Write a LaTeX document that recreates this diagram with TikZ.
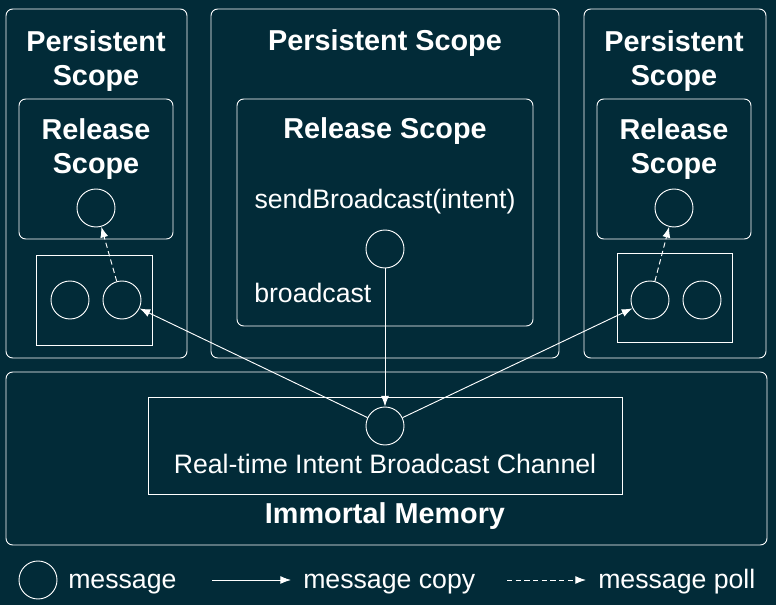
\documentclass[tikz,border=0pt]{standalone}
\usepackage{fontspec}
\setmainfont{Liberation Sans}
\usetikzlibrary{arrows.meta}
\definecolor{bgteal}{HTML}{022B38}
\tikzset{
  scopebox/.style={draw=white, line width=0.7pt, rounded corners=5pt},
  queuebox/.style={draw=white, line width=0.7pt},
  msg/.style={circle, draw=white, line width=0.7pt, minimum size=28.5pt, inner sep=0pt},
  scopetitle/.style={text=white, align=center, font=\fontsize{21.6}{25.5}\selectfont\bfseries},
  txt/.style={text=white, font=\fontsize{20}{24}\selectfont},
  copyarrow/.style={draw=white, line width=0.7pt, -{Latex[length=8pt,width=6pt]}},
  pollarrow/.style={copyarrow, dash pattern=on 4pt off 2.5pt},
}
\begin{document}
\begin{tikzpicture}[x=0.75pt, y=-0.75pt]
  \fill[bgteal] (0,0) rectangle (776,605);
  % persistent scopes
  \draw[scopebox] (6,9) rectangle (187,358);
  \draw[scopebox] (211,9) rectangle (559,358);
  \draw[scopebox] (584,9) rectangle (766,358);
  \node[scopetitle] (lps) at (96,61) {Persistent\\Scope};
  \node[scopetitle, anchor=base] (mps) at (385,51) {Persistent Scope};
  \node[scopetitle] (rps) at (674,61) {Persistent\\Scope};
  % release scopes
  \draw[scopebox] (19,99) rectangle (173,239);
  \draw[scopebox] (237,99) rectangle (533,326);
  \draw[scopebox] (597,99) rectangle (751,239);
  \node[scopetitle] (lrs) at (96,149) {Release\\Scope};
  \node[scopetitle, anchor=base] (mrs) at (385,139) {Release Scope};
  \node[scopetitle] (rrs) at (674,149) {Release\\Scope};
  \node[txt, anchor=base] (send) at (385,209) {sendBroadcast(intent)};
  \node[txt, anchor=base west, inner sep=0pt] (bc) at (254,303) {broadcast};
  \node[msg] (lrel) at (96,208) {};
  \node[msg] (mrel) at (385,249) {};
  \node[msg] (rrel) at (674,208) {};
  % queues
  \draw[queuebox] (36,255) rectangle (152,345);
  \draw[queuebox] (617,253) rectangle (732,342);
  \node[msg] (lq1) at (70,300) {};
  \node[msg] (lq2) at (122,300) {};
  \node[msg] (rq1) at (650,300) {};
  \node[msg] (rq2) at (702,300) {};
  % immortal memory
  \draw[scopebox] (6,372) rectangle (767,545);
  \draw[queuebox] (148,397) rectangle (622,494);
  \node[msg] (chan) at (385,426) {};
  \node[txt, anchor=base] (chantxt) at (385,474) {Real-time Intent Broadcast Channel};
  \node[scopetitle, anchor=base] (imm) at (385,524) {Immortal Memory};
  % connectors
  \draw[copyarrow] (mrel) -- (chan);
  \draw[copyarrow] (chan) -- (lq2);
  \draw[copyarrow] (chan) -- (rq1);
  \draw[pollarrow] (lq2) -- (lrel);
  \draw[pollarrow] (rq1) -- (rrel);
  % legend
  \node[msg] (lgmsg) at (38,580) {};
  \node[txt, anchor=base west, inner sep=0pt] (lgmsgtxt) at (68,589) {message};
  \coordinate (cpa) at (212,580);
  \coordinate (cpb) at (291,580);
  \draw[copyarrow] (cpa) -- (cpb);
  \node[txt, anchor=base west, inner sep=0pt] (lgcopy) at (303,589) {message copy};
  \coordinate (pla) at (507,580);
  \coordinate (plb) at (586,580);
  \draw[pollarrow] (pla) -- (plb);
  \node[txt, anchor=base west, inner sep=0pt] (lgpoll) at (598,589) {message poll};
\end{tikzpicture}
\end{document}
